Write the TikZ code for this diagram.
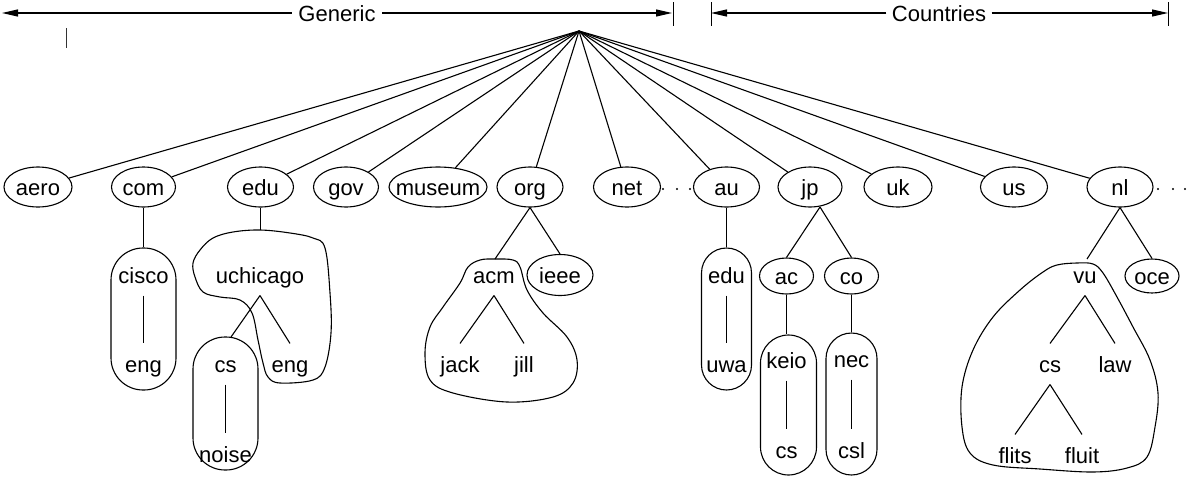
\documentclass[tikz,border=0pt]{standalone}
\usepackage{fontspec}
\setmainfont{Liberation Sans}
\usetikzlibrary{arrows.meta,shapes.geometric}
\newcommand\dnsfs{\fontsize{22}{26}\selectfont}
\begin{document}
\begin{tikzpicture}[x=1pt,y=-1pt,line width=1.1pt,
  dom/.style={ellipse,draw,font=\dnsfs,text height=16pt,text depth=0pt,
    inner xsep=-10pt,inner ysep=0pt,minimum height=40pt,minimum width=#1},
  dom/.default=66pt,
  sdom/.style={ellipse,draw,font=\dnsfs,text height=16pt,text depth=0pt,
    inner xsep=-10pt,inner ysep=0pt,minimum height=36pt,minimum width=#1},
  lab/.style={font=\dnsfs,text height=16pt,text depth=0pt,inner xsep=1pt,inner ysep=12pt},
  head/.style={font=\dnsfs,text height=16pt,text depth=0pt,inner xsep=#1,inner ysep=0pt},
  stad/.style={draw,rectangle,inner sep=0pt},
  tipline/.style={-{Triangle[length=16pt,width=7pt]}},
  dot/.style={fill=black}]
\useasboundingbox (0,0) rectangle (1188,498);

% ---- header arrows ----
\node[head=6pt] (gen) at (337,13) {Generic};
\node[head=5pt] (cty) at (939,13) {Countries};
\coordinate (gl) at (2,13);
\coordinate (gr) at (672,13);
\coordinate (cl) at (711,13);
\coordinate (cr) at (1168,13);
\draw[tipline] (gen.west) -- (gl);
\draw[tipline] (gen.east) -- (gr);
\draw[tipline] (cty.west) -- (cl);
\draw[tipline] (cty.east) -- (cr);
\draw (673.5,2) -- (673.5,26);
\draw (711.5,2) -- (711.5,26);
\draw (1168.5,2) -- (1168.5,26);
\draw[line width=1pt,black!80] (66.5,28) -- (66.5,48);

% ---- root and top level ----
\coordinate (root) at (579,31);
\node[dom=68pt] (aero)   at (38,187)   {aero};
\node[dom=64pt] (com)    at (143.5,187)  {com};
\node[dom=66pt] (edu)    at (260.5,187)  {edu};
\node[dom=65pt] (gov)    at (346,187)  {gov};
\node[dom=98pt] (museum) at (438,187)  {museum};
\node[dom=66pt] (org)    at (530,187)  {org};
\node[dom=67pt] (net)    at (627,187)  {net};
\node[dom=66pt] (au)     at (726.5,187)  {au};
\node[dom=64pt] (jp)     at (810,187)  {jp};
\node[dom=68pt] (uk)     at (898,187)  {uk};
\node[dom=67pt] (us)     at (1014,187) {us};
\node[dom=66pt] (nl)     at (1120,187) {nl};
\foreach \n in {aero,com,edu,gov,museum,org,net,au,jp,uk,us,nl}
  \draw (root) -- (\n);

% dots
\foreach \x in {663,677,690,1158,1173,1185}
  \fill[dot] (\x,189) circle (1.2);

% ---- com ----
\node[stad,minimum width=65pt,minimum height=142pt,rounded corners=32pt] (ciscobox) at (143.5,319) {};
\draw (com) -- (ciscobox);
\node[lab] (cisco) at (143.5,275) {cisco};
\node[lab] (eng1) at (143.5,364) {eng};
\draw (cisco) -- (eng1);

% ---- edu ----
\coordinate (uchtop) at (260.5,230);
\draw (edu) -- (uchtop);
\draw plot[smooth cycle,tension=0.6] coordinates {(260,230) (233,232) (213,238) (200,250) (193,263) (195,277) (203,292) (220,297) (240,300) (252,313) (258,340) (263,363) (268,377) (280,383) (313,380) (325,367) (331,333) (330,293) (325,248) (313,238) (290,233)};
\node[lab] (uch) at (260,275) {uchicago};
\node[stad,minimum width=65pt,minimum height=133pt,rounded corners=32pt] (csbox) at (225.5,403.5) {};
\node[lab] (cs2) at (225.5,364) {cs};
\node[lab] (noise) at (225.5,454) {noise};
\node[lab] (eng2) at (290,364) {eng};
\coordinate (cstop) at (231,337);
\draw (uch.south) -- (cstop);
\draw (uch.south) -- (eng2.north);
\draw (cs2) -- (noise);

% ---- org ----
\coordinate (acmtop) at (495,259);
\draw plot[smooth cycle,tension=0.6] coordinates {(495,259) (480,260) (468,267) (460,283) (443,307) (430,327) (425,353) (430,380) (453,393) (507,402) (553,397) (573,383) (577,360) (567,337) (543,313) (527,290) (520,267) (513,260)};
\node[dom=66pt,minimum height=41pt] (ieee) at (560,275) {ieee};
\draw (org.south) -- (acmtop);
\draw (org.south) -- (ieee.north);
\node[lab] (acm) at (494,275) {acm};
\node[lab] (jack) at (460,364) {jack};
\node[lab] (jill) at (524,364) {jill};
\draw (acm.south) -- (jack.north);
\draw (acm.south) -- (jill.north);

% ---- au ----
\node[stad,minimum width=50pt,minimum height=142pt,rounded corners=25pt] (edubox) at (726.5,319) {};
\draw (au) -- (edubox);
\node[lab] (edua) at (726.5,275) {edu};
\node[lab] (uwa) at (726.5,364) {uwa};
\draw (edua) -- (uwa);

% ---- jp ----
\coordinate (jpb) at (820,207);
\node[sdom=54pt] (ac) at (786.5,276) {ac};
\node[sdom=54pt] (co) at (851.5,276) {co};
\draw (jpb) -- (ac.north);
\draw (jpb) -- (co.north);
\node[stad,minimum width=56pt,minimum height=140pt,rounded corners=28pt] (keiobox) at (788.5,405) {};
\node[stad,minimum width=51pt,minimum height=142pt,rounded corners=25.5pt] (necbox) at (851.5,404) {};
\draw (ac.south) -- (ac.south |- keiobox.north);
\draw (co.south) -- (co.south |- necbox.north);
\node[lab] (keio) at (786.5,360) {keio};
\node[lab] (cs3) at (786.5,450) {cs};
\node[lab] (nec) at (851.5,359) {nec};
\node[lab] (csl) at (851.5,450) {csl};
\draw (keio) -- (cs3);
\draw (nec) -- (csl);

% ---- nl ----
\coordinate (vutop) at (1087,259);
\node[sdom=54pt,minimum height=34pt] (oce) at (1152,276) {oce};
\draw (nl.south) -- (vutop);
\draw (nl.south) -- (oce.north);
\draw plot[smooth cycle,tension=0.6] coordinates {(1057,265) (1077,263) (1093,264) (1103,273) (1117,297) (1133,327) (1150,360) (1158,393) (1155,427) (1147,457) (1127,468) (1093,472) (1040,469) (993,465) (970,453) (962,427) (962,387) (973,350) (993,317) (1020,290) (1043,272)};
\node[lab] (vu) at (1085,275) {vu};
\node[lab] (cs4) at (1050,364) {cs};
\node[lab] (law) at (1115,364) {law};
\node[lab] (flits) at (1015,455) {flits};
\node[lab] (fluit) at (1082,455) {fluit};
\draw (vu.south) -- (cs4.north);
\draw (vu.south) -- (law.north);
\draw (cs4.south) -- (flits.north);
\draw (cs4.south) -- (fluit.north);
\end{tikzpicture}
\end{document}
